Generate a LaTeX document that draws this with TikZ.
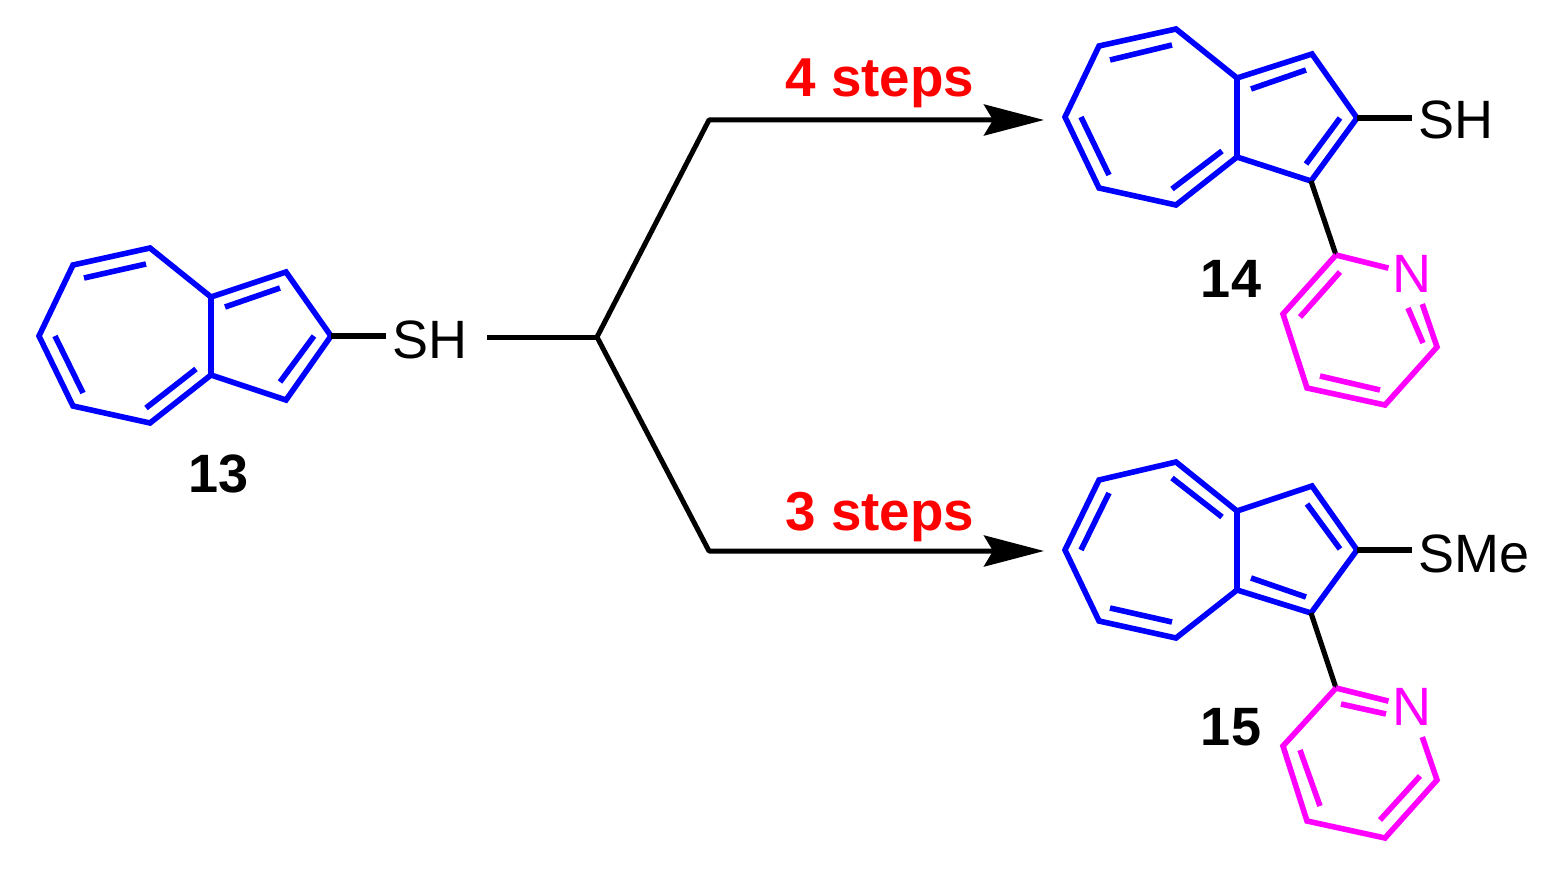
\documentclass[tikz,border=0pt]{standalone}
\usepackage{fontspec}
\setmainfont{Liberation Sans}
\usetikzlibrary{arrows.meta}
\definecolor{ringblue}{RGB}{0,0,255}
\definecolor{pyrmagenta}{RGB}{255,0,255}
\definecolor{stepred}{RGB}{255,0,0}
\tikzset{
ringbond/.style={ringblue,line width=2.8pt,line join=miter},
pyrbond/.style={pyrmagenta,line width=2.8pt,line join=miter},
subbond/.style={black,line width=2.6pt},
rxnline/.style={black,line width=2.5pt,line join=round},
rxnarrow/.style={rxnline,-{Stealth[length=30pt,width=15.5pt,inset=4.5pt]}},
atomlbl/.style={inner sep=0pt,outer sep=0pt,font=\fontsize{27}{30}\selectfont},
nitrogen/.style={inner sep=0pt,outer sep=2pt,pyrmagenta,text height=18.5pt,text depth=0pt,font=\fontsize{27}{30}\selectfont},
complbl/.style={inner sep=0pt,font=\fontsize{27}{30}\selectfont\bfseries},
steplbl/.style={inner sep=0pt,stepred,font=\fontsize{27.4}{30}\selectfont\bfseries},
}
\begin{document}
\begin{tikzpicture}[x=0.5pt,y=-0.5pt]
\useasboundingbox (0,0) rectangle (1560,872);
\coordinate (a13) at (150,248); \coordinate (b13) at (73,265); \coordinate (c13) at (39,336); \coordinate (d13) at (73,406); \coordinate (e13) at (150,423);
\coordinate (f13) at (211,375); \coordinate (g13) at (211,297); \coordinate (h13) at (286,272); \coordinate (i13) at (331,336); \coordinate (j13) at (286,400);
\coordinate (a14) at (1176,29); \coordinate (b14) at (1099,46); \coordinate (c14) at (1065,117); \coordinate (d14) at (1099,188); \coordinate (e14) at (1176,205);
\coordinate (f14) at (1237,157); \coordinate (g14) at (1237,78); \coordinate (h14) at (1312,54); \coordinate (i14) at (1357,118); \coordinate (j14) at (1311,181);
\coordinate (a15) at (1176,462); \coordinate (b15) at (1099,480); \coordinate (c15) at (1065,550); \coordinate (d15) at (1099,621); \coordinate (e15) at (1176,638);
\coordinate (f15) at (1237,590); \coordinate (g15) at (1237,511); \coordinate (h15) at (1312,486); \coordinate (i15) at (1357,550); \coordinate (j15) at (1311,613);
\coordinate (p14) at (1336,255); \coordinate (q14) at (1437,347); \coordinate (r14) at (1385,405); \coordinate (s14) at (1307,388); \coordinate (t14) at (1283,314);
\coordinate (p15) at (1336,688); \coordinate (q15) at (1437,780); \coordinate (r15) at (1385,838); \coordinate (s15) at (1307,821); \coordinate (t15) at (1283,746);
\coordinate (fork) at (597,337); \coordinate (start) at (487,337); \coordinate (upper) at (709,120); \coordinate (lower) at (709,551); \coordinate (tipA) at (1044,120); \coordinate (tipB) at (1044,551);
\node[atomlbl,anchor=base west] (sh13) at (392,358) {SH};
\node[atomlbl,anchor=base west] (sh14) at (1418,139) {SH};
\node[atomlbl,anchor=base west] (sme15) at (1418,572) {SMe};
\node[nitrogen] (n14) at (1412,274) {N};
\node[nitrogen] (n15) at (1412,707) {N};
\node[complbl,anchor=base] (lbl13) at (219,492) {13};
\node[complbl,anchor=base] (lbl14) at (1231,298) {14};
\node[complbl,anchor=base] (lbl15) at (1231,745) {15};
\node[steplbl,anchor=base] (stepsA) at (880,97) {4 steps};
\node[steplbl,anchor=base] (stepsB) at (880,530) {3 steps};
\draw[ringbond] (a13) -- (b13) -- (c13) -- (d13) -- (e13) -- (f13) -- (j13) -- (i13) -- (h13) -- (g13) -- cycle;
\draw[ringbond] (g13) -- (f13);
\draw[ringbond] (84,278) -- (146,264);
\draw[ringbond] (55,336) -- (83,393);
\draw[ringbond] (146,408) -- (196,369);
\draw[ringbond] (225,307) -- (280,288);
\draw[ringbond] (314,336) -- (280,382);
\draw[subbond] (i13) -- (i13 -| 386,0);
\draw[ringbond] (a14) -- (b14) -- (c14) -- (d14) -- (e14) -- (f14) -- (j14) -- (i14) -- (h14) -- (g14) -- cycle;
\draw[ringbond] (g14) -- (f14);
\draw[ringbond] (1110,60) -- (1172,45);
\draw[ringbond] (1081,117) -- (1109,175);
\draw[ringbond] (1172,189) -- (1222,151);
\draw[ringbond] (1251,89) -- (1306,70);
\draw[ringbond] (1340,118) -- (1306,164);
\draw[subbond] (i14) -- (i14 -| 1412,0);
\draw[subbond] (j14) -- (p14);
\draw[pyrbond] (p14) -- (n14);
\draw[pyrbond,shorten <=4pt] (n14) -- (q14) -- (r14) -- (s14) -- (t14) -- (p14);
\draw[pyrbond] (1340,272) -- (1300,317);
\draw[pyrbond] (1408,308) -- (1423,343);
\draw[pyrbond] (1380,390) -- (1320,376);
\draw[ringbond] (a15) -- (b15) -- (c15) -- (d15) -- (e15) -- (f15) -- (j15) -- (i15) -- (h15) -- (g15) -- cycle;
\draw[ringbond] (g15) -- (f15);
\draw[ringbond] (1172,478) -- (1222,517);
\draw[ringbond] (1081,550) -- (1109,493);
\draw[ringbond] (1110,608) -- (1172,622);
\draw[ringbond] (1251,578) -- (1306,597);
\draw[ringbond] (1340,549) -- (1307,504);
\draw[subbond] (i15) -- (i15 -| 1412,0);
\draw[subbond] (j15) -- (p15);
\draw[pyrbond] (p15) -- (n15);
\draw[pyrbond,shorten <=4pt] (n15) -- (q15) -- (r15) -- (s15) -- (t15) -- (p15);
\draw[pyrbond] (1341,704) -- (1386,714);
\draw[pyrbond] (1420,776) -- (1380,820);
\draw[pyrbond] (1320,806) -- (1300,750);
\draw[rxnline] (start) -- (fork);
\draw[rxnarrow] (fork) -- (upper) -- (tipA);
\draw[rxnarrow] (fork) -- (lower) -- (tipB);
\end{tikzpicture}
\end{document}
